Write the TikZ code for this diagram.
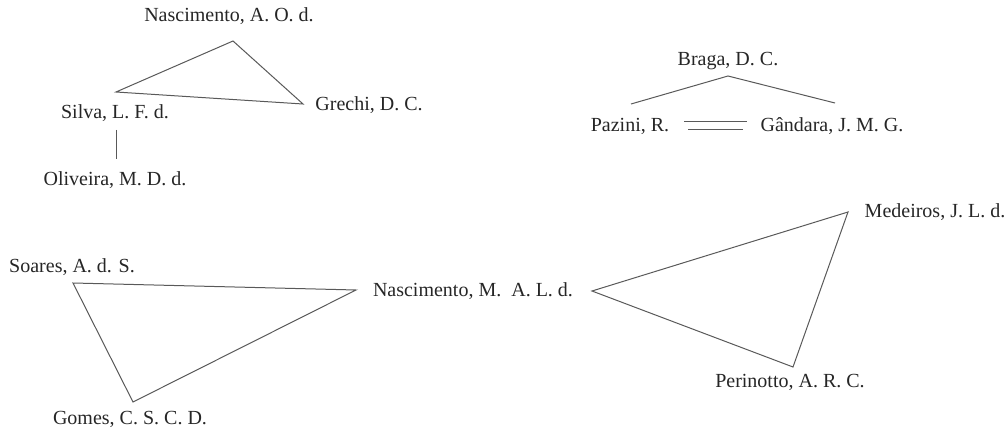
\documentclass[tikz,border=0pt]{standalone}
\usepackage{fontspec}
\setmainfont{Liberation Serif}
\usepackage{tikz}

\tikzset{
	author/.style={inner sep=0pt, text=black!85, font=\fontsize{15}{18}\selectfont},
	tie/.style={draw=black!65, line width=0.75pt}
}

\begin{document}
\begin{tikzpicture}[x=0.75pt, y=-0.75pt]
		\useasboundingbox (0, 0) rectangle (1008, 428);
		% names
		\node[author] (nasA) at (229, 16) {Nascimento, A. O. d.};
		\node[author] (silva) at (115, 113) {Silva, L. F. d.};
		\node[author] (grechi) at (369, 105) {Grechi, D. C.};
		\node[author] (oliveira) at (115, 180) {Oliveira, M. D. d.};
		\node[author] (braga) at (728, 61) {Braga, D. C.};
		\node[author] (pazini) at (630, 126) {Pazini, R.};
		\node[author] (gandara) at (832, 126) {Gândara, J. M. G.};
		\node[author] (soares) at (72, 267) {Soares, A. d. S.};
		\node[author] (gomes) at (130, 419) {Gomes, C. S. C. D.};
		\node[author] (nasM) at (473, 291) {Nascimento, M.\ \ A. L. d.};
		\node[author] (medeiros) at (935, 212) {Medeiros, J. L. d.};
		\node[author] (perinotto) at (790, 382) {Perinotto, A. R. C.};
		% line ends
		\coordinate (nasA-v) at (233, 41);
		\coordinate (silva-v) at (116, 92);
		\coordinate (grechi-v) at (303, 104);
		\coordinate (silva-d) at (116, 130);
		\coordinate (oliveira-u) at (116, 159);
		\coordinate (braga-v) at (728, 76);
		\coordinate (pazini-v) at (631, 104);
		\coordinate (gandara-v) at (835, 103);
		\coordinate (pazini-a) at (684, 122);
		\coordinate (gandara-a) at (747, 122);
		\coordinate (pazini-b) at (688, 130);
		\coordinate (gandara-b) at (743, 130);
		\coordinate (soares-v) at (73, 283);
		\coordinate (nasM-l) at (356, 290);
		\coordinate (gomes-v) at (133, 402);
		\coordinate (nasM-r) at (592, 291);
		\coordinate (medeiros-v) at (848, 212);
		\coordinate (perinotto-v) at (793, 367);
		% ties
		\draw[tie] (nasA-v) -- (grechi-v) -- (silva-v) -- cycle;
		\draw[tie] (silva-d) -- (oliveira-u);
		\draw[tie] (pazini-v) -- (braga-v) -- (gandara-v);
		\draw[tie] (pazini-a) -- (gandara-a);
		\draw[tie] (pazini-b) -- (gandara-b);
		\draw[tie] (soares-v) -- (nasM-l) -- (gomes-v) -- cycle;
		\draw[tie] (nasM-r) -- (medeiros-v) -- (perinotto-v) -- cycle;
	\end{tikzpicture}
\end{document}
